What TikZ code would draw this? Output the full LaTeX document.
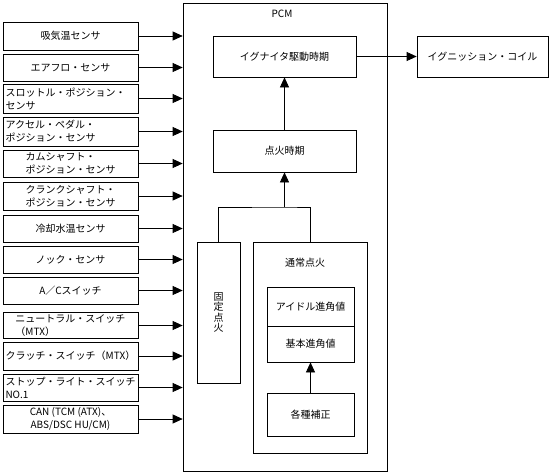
\documentclass[tikz,border=0pt]{standalone}
\usepackage{fontspec}
\setmainfont{Noto Sans CJK JP}
\usetikzlibrary{arrows.meta}
\begin{document}
\begin{tikzpicture}[
    x=1pt, y=-1pt,
    font=\fontsize{10}{13}\selectfont,
    line width=0.7pt,
    >={Triangle[length=10pt,width=9pt]},
    % Stile per i blocchi
    blk/.style={
        draw,
        inner sep=2pt,
        align=center
    },
    % Stile per i sensori (colonna sinistra)
    sens/.style={blk, minimum width=135pt},
    sensl/.style={sens, text width=130pt, align=left}
]
    \useasboundingbox (0,0) rectangle (551,474);

    % --- Sensori ---
    \node[sens, minimum height=28pt] (s1) at (70.5,36) {吸気温センサ};
    \node[sens, minimum height=27pt] (s2) at (70.5,67.5) {エアフロ・センサ};
    \node[sensl, minimum height=29pt] (s3) at (70.5,98.5) {スロットル・ポジション・\\センサ};
    \node[sensl, minimum height=29pt] (s4) at (70.5,131.5) {アクセル・ペダル・\\ポジション・センサ};
    \node[sens, minimum height=27pt, align=left] (s5) at (70.5,163.5) {カムシャフト・\\ポジション・センサ};
    \node[sens, minimum height=28pt, align=left] (s6) at (70.5,196) {クランクシャフト・\\ポジション・センサ};
    \node[sens, minimum height=27pt] (s7) at (70.5,228.5) {冷却水温センサ};
    \node[sens, minimum height=27pt] (s8) at (70.5,259.5) {ノック・センサ};
    \node[sens, minimum height=27pt] (s9) at (70.5,290.5) {A／Cスイッチ};
    \node[sens, minimum height=25pt, align=left] (s10) at (70.5,325.5) {ニュートラル・スイッチ\\（MTX）};
    \node[sens, minimum height=28pt] (s11) at (70.5,356) {クラッチ・スイッチ（MTX）};
    \node[sensl, minimum height=27pt] (s12) at (70.5,387.5) {ストップ・ライト・スイッチ\\NO.1};
    \node[sens, minimum height=28pt] (s13) at (70.5,419) {CAN (TCM (ATX)、\\ABS/DSC HU/CM)};

    % --- PCM ---
    \node[draw, minimum width=204pt, minimum height=468pt] (pcm) at (285,237) {};
    \node (pcmlbl) at (282,14) {PCM};

    \foreach \s in {s1,s2,s3,s4,s5,s6,s7,s8,s9,s10,s11,s12,s13}
        \draw[->] (\s.east) -- (\s.east -| pcm.west);

    % --- Blocchi interni ---
    \node[blk, minimum width=143pt, minimum height=41pt] (drv) at (284.5,56.5) {イグナイタ駆動時期};
    \node[blk, minimum width=131pt, minimum height=41pt] (coil) at (482.5,56.5) {イグニッション・コイル};
    \node[blk, minimum width=143pt, minimum height=42pt] (timing) at (284.5,151) {点火時期};
    \node[blk, minimum width=43pt, minimum height=141pt,
          font=\fontsize{10}{10.5}\selectfont] (fixed) at (218.5,312.5) {固\\定\\点\\火};

    % Accensione normale
    \node[draw, minimum width=114pt, minimum height=211pt] (normal) at (310,347.5) {};
    \node (normallbl) at (305,263) {通常点火};
    \node[blk, minimum width=87pt, minimum height=39pt] (idle) at (310.5,306.5) {アイドル進角値};
    \node[blk, minimum width=87pt, minimum height=36pt] (basic) at (310.5,344) {基本進角値};
    \node[blk, minimum width=87pt, minimum height=43pt] (corr) at (310.5,414.5) {各種補正};

    % --- Collegamenti ---
    \draw[->] (drv.east) -- (coil.west);
    \draw[->] (timing.north) -- (drv.south);
    \coordinate (jn) at (284.5,207);
    \draw (fixed.north) |- (jn) -| (normal.north);
    \draw[->] (jn) -- (timing.south);
    \draw[->] (corr.north) -- (basic.south);

\end{tikzpicture}
\end{document}
